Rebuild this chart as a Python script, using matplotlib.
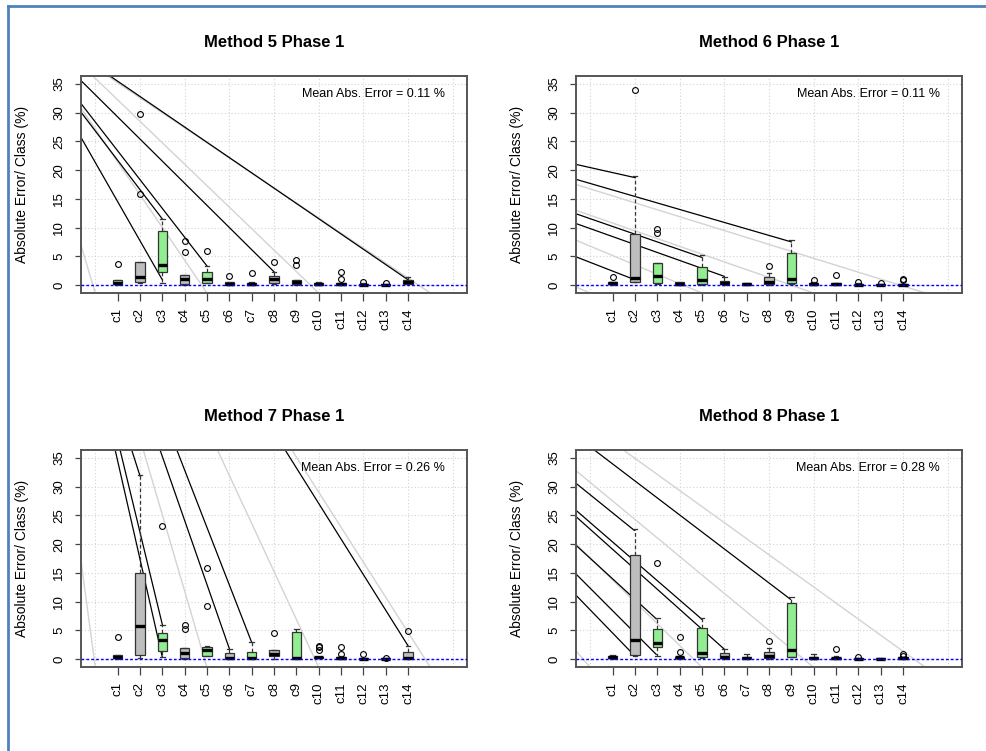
import numpy as np
import matplotlib.pyplot as plt
from matplotlib.lines import Line2D

plt.rcParams['font.family'] = ['Liberation Sans', 'DejaVu Sans']

classes = ['c%d' % i for i in range(1, 15)]
green = [1, 3, 5, 7, 9]  # classes drawn in light green

# box stats per method: lower whisker, q1, median, q3, upper whisker
m5_lo = [0.0, 0.4, 0.3, 0.0, 0.3, 0.0, 0.0, 0.2, 0.0, 0.0, 0.0, 0.0, 0.0, 0.1]
m5_q1 = [0.1, 0.5, 2.3, 0.2, 0.4, 0.05, 0.05, 0.4, 0.1, 0.05, 0.0, 0.0, 0.0, 0.2]
m5_med = [0.4, 1.4, 3.4, 1.0, 1.0, 0.2, 0.2, 1.1, 0.5, 0.2, 0.1, 0.05, 0.05, 0.5]
m5_q3 = [0.8, 4.0, 9.4, 1.8, 2.2, 0.5, 0.4, 1.5, 0.9, 0.4, 0.3, 0.2, 0.1, 0.8]
m5_hi = [0.9, 4.0, 11.5, 1.8, 3.3, 0.6, 0.5, 2.3, 0.9, 0.6, 0.4, 0.3, 0.2, 1.3]
m5_out = [[3.7], [15.8, 29.8], [], [5.7, 7.7], [5.9], [1.5], [2.0], [4.0], [3.5, 4.3],
          [], [1.0, 2.2], [0.5], [0.3], []]

m6_lo = [0.0, 0.5, 0.1, 0.0, 0.0, 0.0, 0.0, 0.0, 0.2, 0.0, 0.0, 0.0, 0.0, 0.0]
m6_q1 = [0.1, 0.6, 0.3, 0.05, 0.2, 0.1, 0.05, 0.2, 0.3, 0.0, 0.0, 0.0, 0.0, 0.0]
m6_med = [0.3, 1.2, 1.5, 0.2, 0.9, 0.4, 0.15, 0.6, 1.0, 0.1, 0.1, 0.05, 0.05, 0.05]
m6_q3 = [0.5, 8.9, 3.8, 0.5, 3.1, 0.7, 0.3, 1.4, 5.6, 0.4, 0.3, 0.2, 0.1, 0.2]
m6_hi = [0.5, 18.9, 3.8, 0.5, 5.2, 1.4, 0.3, 2.0, 7.8, 0.5, 0.4, 0.3, 0.2, 0.2]
m6_out = [[1.3], [34.0], [9.1, 9.7], [], [], [], [], [3.3], [], [0.9], [1.7], [0.5],
          [0.3], [0.8, 1.1]]

m7_lo = [0.0, 0.1, 0.3, 0.0, 0.5, 0.0, 0.0, 0.0, 0.0, 0.1, 0.0, 0.0, 0.0, 0.0]
m7_q1 = [0.1, 0.7, 1.4, 0.1, 0.6, 0.1, 0.1, 0.5, 0.1, 0.1, 0.0, 0.0, 0.0, 0.1]
m7_med = [0.4, 5.7, 3.3, 1.0, 1.6, 0.2, 0.2, 0.9, 0.2, 0.3, 0.2, 0.05, 0.05, 0.1]
m7_q3 = [0.75, 15.0, 4.6, 1.9, 2.1, 1.0, 1.3, 1.6, 4.7, 0.4, 0.4, 0.2, 0.1, 1.3]
m7_hi = [0.75, 32.0, 6.0, 1.9, 2.2, 1.8, 2.9, 1.6, 5.3, 0.4, 0.5, 0.2, 0.1, 2.3]
m7_out = [[3.8], [], [23.2], [5.2, 5.9], [9.2, 15.8], [], [], [4.6], [], [1.6, 2.0, 2.3],
          [0.9, 2.0], [0.8], [0.2], [4.8]]

m8_lo = [0.0, 0.5, 0.6, 0.0, 0.2, 0.0, 0.0, 0.0, 0.3, 0.0, 0.0, 0.0, 0.0, 0.0]
m8_q1 = [0.1, 0.7, 2.1, 0.1, 0.3, 0.1, 0.1, 0.1, 0.4, 0.05, 0.0, 0.0, 0.0, 0.0]
m8_med = [0.3, 3.3, 2.8, 0.3, 1.0, 0.3, 0.2, 0.6, 1.6, 0.1, 0.1, 0.05, 0.05, 0.1]
m8_q3 = [0.5, 18.1, 5.2, 0.4, 5.4, 1.0, 0.4, 1.2, 9.7, 0.3, 0.2, 0.2, 0.1, 0.3]
m8_hi = [0.7, 22.6, 7.2, 0.5, 7.2, 1.7, 0.8, 1.9, 10.8, 0.8, 0.6, 0.2, 0.1, 0.3]
m8_out = [[], [], [16.8], [1.3, 3.8], [], [], [], [3.2], [], [], [1.7], [0.35], [],
          [0.6, 0.9]]

mae = [0.11, 0.11, 0.26, 0.28]
titles = ['Method 5 Phase 1', 'Method 6 Phase 1', 'Method 7 Phase 1', 'Method 8 Phase 1']

# stray diagonal strokes in the picture: x0, y0, x1, y1 (data units)
m5_black = [[-0.64, 25.7, 3.0, 0.9], [-0.64, 31.6, 5.0, 3.3], [-0.64, 30.1, 3.0, 11.5],
            [-0.64, 35.6, 8.0, 2.3], [0.66, 36.4, 14.0, 0.9]]
m5_gray = [[-0.64, 6.9, 0, -1.4], [-0.64, 30.8, 5, -1.4], [-0.11, 36.4, 10, -1.4],
           [0.55, 36.4, 15, -1.4]]
m6_black = [[-0.64, 21.0, 2.0, 18.7], [-0.64, 18.4, 9.0, 7.5], [-0.64, 12.4, 5.0, 4.8],
            [-0.64, 10.7, 6.0, 1.5], [-0.64, 4.9, 2.0, 0.9]]
m6_gray = [[-0.64, -0.36, 0, -1.4], [-0.64, 7.8, 5, -1.4], [-0.64, 13.0, 10, -1.4],
           [-0.64, 17.5, 15, -1.4]]
m7_black = [[0.89, 36.4, 3.0, 0.3], [1.11, 36.4, 3.0, 6.0], [1.63, 36.4, 2.0, 31.9],
            [2.9, 36.4, 6.0, 1.8], [3.65, 36.4, 7.0, 2.9], [8.5, 36.4, 14.0, 2.3]]
m7_gray = [[-0.64, 17.1, 0, -1.46], [2.15, 36.4, 5, -1.46], [5.47, 36.4, 10, -1.46],
           [8.8, 36.4, 15, -1.46]]
m8_black = [[0.18, 36.4, 8.96, 10.4], [-0.64, 30.6, 1.97, 22.4], [-0.64, 25.9, 5.0, 6.9],
            [-0.64, 24.8, 6.0, 1.7], [-0.64, 19.8, 2.95, 7.0], [-0.64, 14.8, 2.95, 0.8],
            [-0.64, 11.1, 1.85, 1.1]]
m8_gray = [[-0.64, 1.4, 0, -1.46], [-0.64, 20.0, 5, -1.46], [-0.64, 32.8, 10, -1.46],
           [1.48, 36.4, 15, -1.46]]

methods = [
    (m5_lo, m5_q1, m5_med, m5_q3, m5_hi, m5_out, m5_black, m5_gray),
    (m6_lo, m6_q1, m6_med, m6_q3, m6_hi, m6_out, m6_black, m6_gray),
    (m7_lo, m7_q1, m7_med, m7_q3, m7_hi, m7_out, m7_black, m7_gray),
    (m8_lo, m8_q1, m8_med, m8_q3, m8_hi, m8_out, m8_black, m8_gray),
]

W, H = 986, 751
fig = plt.figure(figsize=(W / 100, H / 100), dpi=100)

# axes boxes in pixels: left, top, right, bottom
boxes = [(81, 76, 467, 293), (576, 76, 962, 293), (81, 450, 467, 667), (576, 450, 962, 667)]

for k, (lo, q1, med, q3, hi, out, blk, gry) in enumerate(methods):
    l, t, r, b = boxes[k]
    ax = fig.add_axes([l / W, 1 - b / H, (r - l) / W, (b - t) / H])
    ax.set_xlim(-0.64, 16.64)
    ax.set_ylim(-1.4, 36.4)

    # grid
    for gx in range(0, 17, 2):
        ax.axvline(gx, color='#d3d3d3', lw=0.8, ls=(0, (1, 2)), zorder=0)
    for gy in range(0, 36, 5):
        ax.axhline(gy, color='#d3d3d3', lw=0.8, ls=(0, (1, 2)), zorder=0)

    # diagonal strokes
    for s in gry:
        ax.plot([s[0], s[2]], [s[1], s[3]], color='#d3d3d3', lw=1.0, zorder=1)
    for s in blk:
        ax.plot([s[0], s[2]], [s[1], s[3]], color='black', lw=0.9, zorder=1)

    stats = []
    for i in range(14):
        stats.append(dict(whislo=lo[i], q1=q1[i], med=med[i], q3=q3[i], whishi=hi[i],
                          fliers=out[i]))
    bp = ax.bxp(stats, positions=range(1, 15), widths=0.42, capwidths=0.2,
                patch_artist=True, manage_ticks=False,
                boxprops=dict(edgecolor='#333333', lw=0.9),
                medianprops=dict(color='black', lw=2.4),
                whiskerprops=dict(color='#333333', lw=0.9, ls=(0, (3, 2))),
                capprops=dict(color='#333333', lw=0.9),
                flierprops=dict(marker='o', mfc='none', mec='black', ms=4.2, mew=0.8))
    for i, p in enumerate(bp['boxes']):
        p.set_facecolor('#90ee90' if (i + 1) in green else '#bebebe')
        p.set_zorder(2)

    ax.axhline(0, color='#0000ff', lw=1.0, ls=(0, (2, 1.5)), zorder=3)

    ax.text(0.943, 0.919, 'Mean Abs. Error = %.2f %%' % mae[k], transform=ax.transAxes,
            ha='right', va='center', fontsize=9)
    ax.text(0.5, 1.153, titles[k], transform=ax.transAxes, ha='center', va='center',
            fontsize=12, fontweight='bold')

    ax.set_xticks(range(1, 15))
    ax.set_xticklabels(classes, rotation=90, fontsize=9.5)
    ax.set_yticks(range(0, 36, 5))
    ax.set_yticklabels([str(v) for v in range(0, 36, 5)], rotation=90, va='center', fontsize=9.5)
    ax.tick_params(axis='x', length=6, width=0.9, color='#444444', pad=5)
    ax.tick_params(axis='y', length=4.5, width=0.9, color='#444444', pad=7)
    ax.set_ylabel('Absolute Error/ Class (%)', fontsize=10, labelpad=17)
    for sp in ax.spines.values():
        sp.set_color('#555555')
        sp.set_linewidth(1.4)

# page border on the left and top
fig.add_artist(Line2D([8 / W, 8 / W], [0, 1 - 6 / H], transform=fig.transFigure,
                      color='#4f81bd', lw=2))
fig.add_artist(Line2D([8 / W, 1], [1 - 6 / H, 1 - 6 / H], transform=fig.transFigure,
                      color='#4f81bd', lw=2))

fig.savefig('out.png', dpi=100)
